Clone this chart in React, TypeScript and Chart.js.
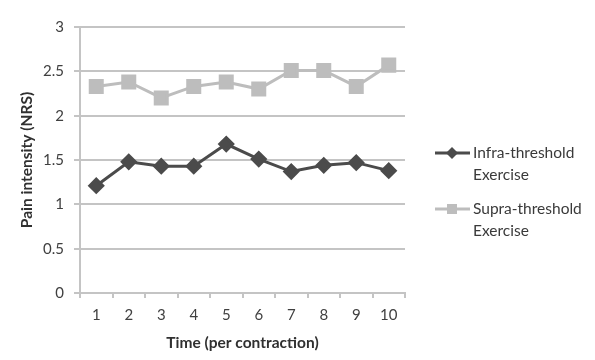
import React, { useEffect, useRef } from "react";
import { Chart, registerables } from "chart.js";

Chart.register(...registerables);

const categories = ["1", "2", "3", "4", "5", "6", "7", "8", "9", "10"];
const infraValues = [1.21, 1.48, 1.43, 1.43, 1.68, 1.51, 1.37, 1.44, 1.47, 1.38];
const supraValues = [2.33, 2.38, 2.2, 2.33, 2.38, 2.3, 2.51, 2.51, 2.33, 2.57];
const infraLabel = ["Infra-threshold", "Exercise"];
const supraLabel = ["Supra-threshold", "Exercise"];
const yTitle = "Pain intensity (NRS)";
const xTitle = "Time (per contraction)";

const FONT = "Lato, 'Open Sans', sans-serif";

const legendPlugin = {
  id: "sideLegend",
  afterDraw(chart: any) {
    const ctx = chart.ctx;
    const items = [
      { ds: chart.data.datasets[0], y: 153 },
      { ds: chart.data.datasets[1], y: 209 },
    ];
    ctx.save();
    items.forEach(({ ds, y }) => {
      ctx.strokeStyle = ds.borderColor;
      ctx.lineWidth = 3;
      ctx.beginPath();
      ctx.moveTo(435, y);
      ctx.lineTo(470, y);
      ctx.stroke();
      ctx.fillStyle = ds.pointBackgroundColor;
      const cx = 452;
      if (ds.pointStyle === "rectRot") {
        ctx.beginPath();
        ctx.moveTo(cx, y - 6);
        ctx.lineTo(cx + 6, y);
        ctx.lineTo(cx, y + 6);
        ctx.lineTo(cx - 6, y);
        ctx.closePath();
        ctx.fill();
      } else {
        ctx.fillRect(cx - 5, y - 5, 10, 10);
      }
      ctx.fillStyle = "#3a3a3a";
      ctx.font = `15.5px ${FONT}`;
      ctx.textBaseline = "middle";
      ctx.textAlign = "left";
      (ds.label as string[]).forEach((line: string, i: number) => {
        ctx.fillText(line, 473, y + i * 22);
      });
    });
    ctx.restore();
  },
};

export default function App() {
  const ref = useRef<HTMLCanvasElement>(null);
  useEffect(() => {
    document.body.style.margin = "0";
    const chart = new Chart(ref.current!, {
      type: "line",
      data: {
        labels: categories,
        datasets: [
          {
            label: infraLabel as any,
            data: infraValues,
            borderColor: "#4b4b4b",
            backgroundColor: "#4b4b4b",
            pointBackgroundColor: "#4b4b4b",
            pointBorderColor: "#4b4b4b",
            pointStyle: "rectRot",
            pointRadius: 6.5,
            borderWidth: 3,
          },
          {
            label: supraLabel as any,
            data: supraValues,
            borderColor: "#bdbdbd",
            backgroundColor: "#bdbdbd",
            pointBackgroundColor: "#bdbdbd",
            pointBorderColor: "#bdbdbd",
            pointStyle: "rect",
            pointRadius: 8.5,
            borderWidth: 3,
          },
        ],
      },
      options: {
        animation: false,
        responsive: false,
        maintainAspectRatio: false,
        layout: { padding: { top: 27, right: 190, left: 18, bottom: 8 } },
        plugins: {
          legend: { display: false },
          tooltip: { enabled: false },
        },
        scales: {
          x: {
            type: "category",
            offset: true,
            grid: {
              offset: true,
              drawOnChartArea: false,
              color: "#c4c4c4",
              lineWidth: 2,
              tickLength: 5,
            },
            border: { color: "#c4c4c4", width: 2 },
            ticks: {
              color: "#404040",
              font: { family: FONT, size: 15 },
              padding: 8,
            },
            title: {
              display: true,
              text: xTitle,
              color: "#303030",
              font: { family: FONT, size: 15.5, weight: "bold" },
              padding: { top: 4, bottom: 0 },
            },
            afterFit(scale: any) {
              scale.height = 59;
            },
          },
          y: {
            min: 0,
            max: 3,
            ticks: {
              stepSize: 0.5,
              color: "#404040",
              font: { family: FONT, size: 15 },
              padding: 10,
              callback: (v: any) => String(Number(v)),
            },
            grid: {
              color: "#c4c4c4",
              lineWidth: 2,
              tickLength: 6,
            },
            border: { color: "#c4c4c4", width: 2 },
            title: {
              display: true,
              text: yTitle,
              color: "#303030",
              font: { family: FONT, size: 15.5, weight: "bold" },
              padding: { top: 0, bottom: 4 },
            },
            afterFit(scale: any) {
              scale.width = 62;
            },
          },
        },
      },
      plugins: [legendPlugin],
    });
    return () => chart.destroy();
  }, []);
  return (
    <div style={{ position: "absolute", left: 0, top: 0, width: 595, height: 360, background: "#fff" }}>
      <canvas ref={ref} width={595} height={360} style={{ width: 595, height: 360 }} />
    </div>
  );
}
